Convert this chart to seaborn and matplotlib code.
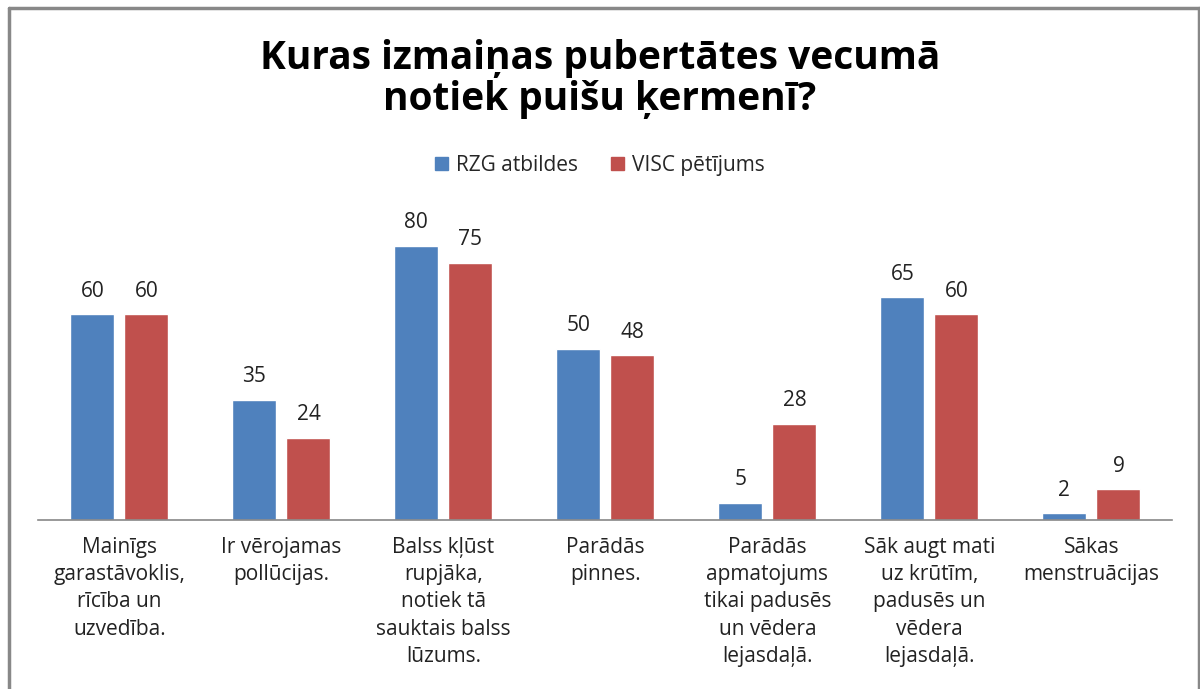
import matplotlib
matplotlib.use("Agg")
import matplotlib.pyplot as plt
import matplotlib.lines as mlines
import seaborn as sns
import pandas as pd

categories = [
    "Mainīgs\ngarastāvoklis,\nrīcība un\nuzvedība.",
    "Ir vērojamas\npollūcijas.",
    "Balss kļūst\nrupjāka,\nnotiek tā\nsauktais balss\nlūzums.",
    "Parādās\npinnes.",
    "Parādās\napmatojums\ntikai padusēs\nun vēdera\nlejasdaļā.",
    "Sāk augt mati\nuz krūtīm,\npadusēs un\nvēdera\nlejasdaļā.",
    "Sākas\nmenstruācijas",
]
series = ["RZG atbildes", "VISC pētījums"]
rzg = [60, 35, 80, 50, 5, 65, 2]
visc = [60, 24, 75, 48, 28, 60, 9]
colors = ["#4F81BD", "#C0504D"]

df = pd.DataFrame({
    "cat": categories * 2,
    "series": [series[0]] * len(categories) + [series[1]] * len(categories),
    "value": rzg + visc,
})

sns.set_theme(style="white")
plt.rcParams["font.family"] = ["Open Sans", "DejaVu Sans"]

fig = plt.figure(figsize=(12, 6.89), dpi=100)
ax = fig.add_axes([0.032, 0.2453, 0.945, 0.4977])

sns.barplot(data=df, x="cat", y="value", hue="series", order=categories,
            hue_order=series, palette=colors, width=0.668, gap=0.186,
            saturation=1, ax=ax, legend=False)

for cont in ax.containers:
    ax.bar_label(cont, padding=9, fontsize=15, color="#222222")

ax.set_ylim(0, 100)
ax.set_xlim(-0.5, len(categories) - 0.5)
ax.set_xlabel("")
ax.set_ylabel("")
ax.set_yticks([])
ax.tick_params(axis="x", length=0, pad=12)
ax.set_xticks(range(len(categories)))
ax.set_xticklabels(categories, fontsize=15, color="#222222", linespacing=1.4)
for s in ["top", "right", "left"]:
    ax.spines[s].set_visible(False)
ax.spines["bottom"].set_color("#888888")
ax.spines["bottom"].set_linewidth(1.2)

fig.text(0.5, 0.885, "Kuras izmaiņas pubertātes vecumā\nnotiek puišu ķermenī?",
         ha="center", va="center", fontsize=28, fontweight="bold",
         linespacing=1.08, color="black")

handles = [plt.Rectangle((0, 0), 1, 1, color=c) for c in colors]
fig.legend(handles, series, loc="center", bbox_to_anchor=(0.5, 0.76), ncol=2,
           frameon=False, fontsize=15, handlelength=0.6, handleheight=0.6,
           columnspacing=1.6, handletextpad=0.4)

# chart frame
fc = "#888888"
fig.add_artist(mlines.Line2D([9 / 1200, 9 / 1200], [0, 1 - 8 / 689], color=fc, lw=2.5))
fig.add_artist(mlines.Line2D([9 / 1200, 1198.5 / 1200], [1 - 8 / 689, 1 - 8 / 689], color=fc, lw=2.5))
fig.add_artist(mlines.Line2D([1198.5 / 1200, 1198.5 / 1200], [0, 1 - 8 / 689], color=fc, lw=2.5))

fig.savefig("out.png", dpi=100)
